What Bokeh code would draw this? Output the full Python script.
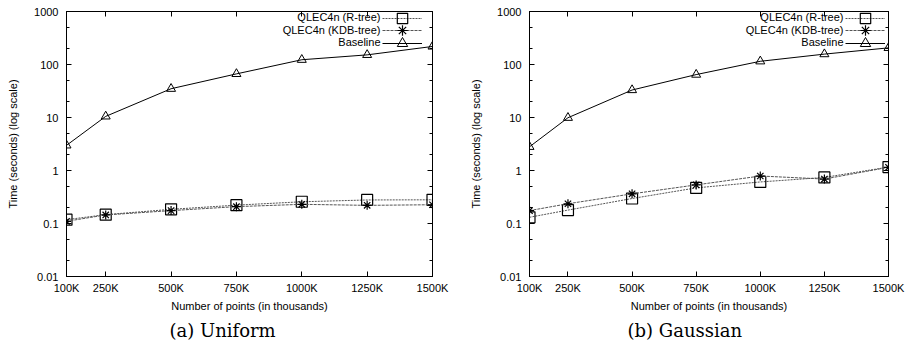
from bokeh.plotting import figure
from bokeh.models import (FixedTicker, LinearAxis, LogAxis, Range1d, Label,
                          Legend, LegendItem, CustomLabelingPolicy, Title)
from bokeh.layouts import row
from bokeh.embed import file_html
from bokeh.resources import INLINE

# ---------------- data ----------------
points_k = [100, 250, 500, 750, 1000, 1250, 1500]
x_tick_labels = ["100K", "250K", "500K", "750K", "1000K", "1250K", "1500K"]
y_tick_values = [0.01, 0.1, 1, 10, 100, 1000]
y_tick_labels = ["0.01", "0.1", "1", "10", "100", "1000"]
series_names = ["QLEC4n (R-tree)", "QLEC4n (KDB-tree)", "Baseline"]

uniform_rtree = [0.118, 0.147, 0.185, 0.222, 0.257, 0.278, 0.28]
uniform_kdb = [0.110, 0.145, 0.175, 0.208, 0.230, 0.220, 0.226]
uniform_baseline = [2.98, 10.5, 34.9, 66.5, 123, 152, 219]

gaussian_rtree = [0.131, 0.179, 0.296, 0.47, 0.608, 0.74, 1.16]
gaussian_kdb = [0.175, 0.236, 0.363, 0.535, 0.787, 0.69, 1.15]
gaussian_baseline = [2.8, 9.9, 33, 64.5, 115, 157, 206]

captions = ["(a) Uniform", "(b) Gaussian"]

FONT = "Liberation Sans"
CAPTION_FONT = "DejaVu Serif"
minor_y = [v * m for v in y_tick_values[:-1] for m in (2, 5)]

NO_LABELS = CustomLabelingPolicy(code="""
const all = Array.from(indices)
for (const i of all) indices.unset(i)
return indices
""")


def style_axis(ax, labels=True):
    ax.axis_line_color = "black"
    ax.axis_line_width = 1
    ax.major_tick_line_color = "black"
    ax.minor_tick_line_color = "black"
    ax.major_tick_in = 5
    ax.major_tick_out = 0
    ax.minor_tick_in = 3
    ax.minor_tick_out = 0
    ax.major_label_text_font = FONT
    ax.major_label_text_font_size = "11px"
    ax.major_label_text_color = "black"
    ax.axis_label_text_font = FONT
    ax.axis_label_text_font_size = "11px"
    ax.axis_label_text_font_style = "normal"
    ax.axis_label_text_color = "black"
    if not labels:
        ax.major_label_policy = NO_LABELS
        ax.major_label_standoff = 0


def make_panel(rtree, kdb, baseline, caption, left, right, cap_offset):
    p = figure(width=456, height=348,
               x_range=Range1d(points_k[0], points_k[-1]),
               y_range=Range1d(y_tick_values[0], y_tick_values[-1]),
               y_axis_type="log", output_backend="svg", toolbar_location=None,
               min_border_left=left, min_border_right=right,
               min_border_top=9, min_border_bottom=72)
    p.xgrid.visible = False
    p.ygrid.visible = False
    p.outline_line_color = "black"
    p.outline_line_width = 1
    p.background_fill_color = "white"
    p.border_fill_color = "white"

    xa = p.xaxis[0]
    xa.ticker = FixedTicker(ticks=points_k, minor_ticks=[])
    xa.major_label_overrides = dict(zip(points_k, x_tick_labels))
    xa.axis_label = "Number of points (in thousands)"
    style_axis(xa)
    xa.major_label_standoff = 5
    xa.axis_label_standoff = 3

    ya = p.yaxis[0]
    ya.ticker = FixedTicker(ticks=y_tick_values, minor_ticks=minor_y)
    ya.major_label_overrides = dict(zip(y_tick_values, y_tick_labels))
    ya.axis_label = "Time (seconds) (log scale)"
    style_axis(ya)
    ya.major_label_standoff = 8
    ya.axis_label_standoff = 12

    top = LinearAxis(ticker=FixedTicker(ticks=points_k, minor_ticks=[]))
    style_axis(top, labels=False)
    p.add_layout(top, "above")
    rgt = LogAxis(ticker=FixedTicker(ticks=y_tick_values, minor_ticks=minor_y))
    style_axis(rgt, labels=False)
    p.add_layout(rgt, "right")

    l1 = p.line(points_k, rtree, line_color="#555555", line_width=1, line_dash="2 1")
    s1 = p.scatter(points_k, rtree, marker="square", size=11, fill_color=None,
                   line_color="black", line_width=1.2)
    l2 = p.line(points_k, kdb, line_color="#555555", line_width=1, line_dash="3 1")
    s2 = p.scatter(points_k, kdb, marker="asterisk", size=9,
                   line_color="black", line_width=1.2)
    l3 = p.line(points_k, baseline, line_color="black", line_width=1)
    s3 = p.scatter(points_k, baseline, marker="triangle", size=9, fill_color=None,
                   line_color="black", line_width=1)

    groups = [[l1, s1], [l2, s2], [l3, s3]]
    gh = 26
    for i, (name, rends) in enumerate(zip(series_names, groups)):
        cy = 259.5 - 12.5 * i
        lg = Legend(items=[LegendItem(label=" ", renderers=rends)],
                    location=(316, cy - gh / 2 - 1), glyph_width=40, glyph_height=gh,
                    label_height=gh, label_width=1, label_standoff=1,
                    padding=1, margin=1, spacing=0, border_line_color=None,
                    background_fill_alpha=0, label_text_font_size="8px")
        p.add_layout(lg)
        p.add_layout(Label(x=314, y=cy, x_units="screen", y_units="screen",
                           text=name, text_align="right", text_baseline="middle",
                           text_font=FONT, text_font_size="11px", text_color="black"))

    p.add_layout(Title(text=caption, align="left", offset=cap_offset,
                       text_font=CAPTION_FONT, text_font_size="18px",
                       text_font_style="normal", text_color="black",
                       standoff=6), "below")
    return p


p1 = make_panel(uniform_rtree, uniform_kdb, uniform_baseline, captions[0], 66, 20, 103)
p2 = make_panel(gaussian_rtree, gaussian_kdb, gaussian_baseline, captions[1], 73, 13, 98)
layout = row(p1, p2)

open("out.html", "w").write(file_html(layout, INLINE))
